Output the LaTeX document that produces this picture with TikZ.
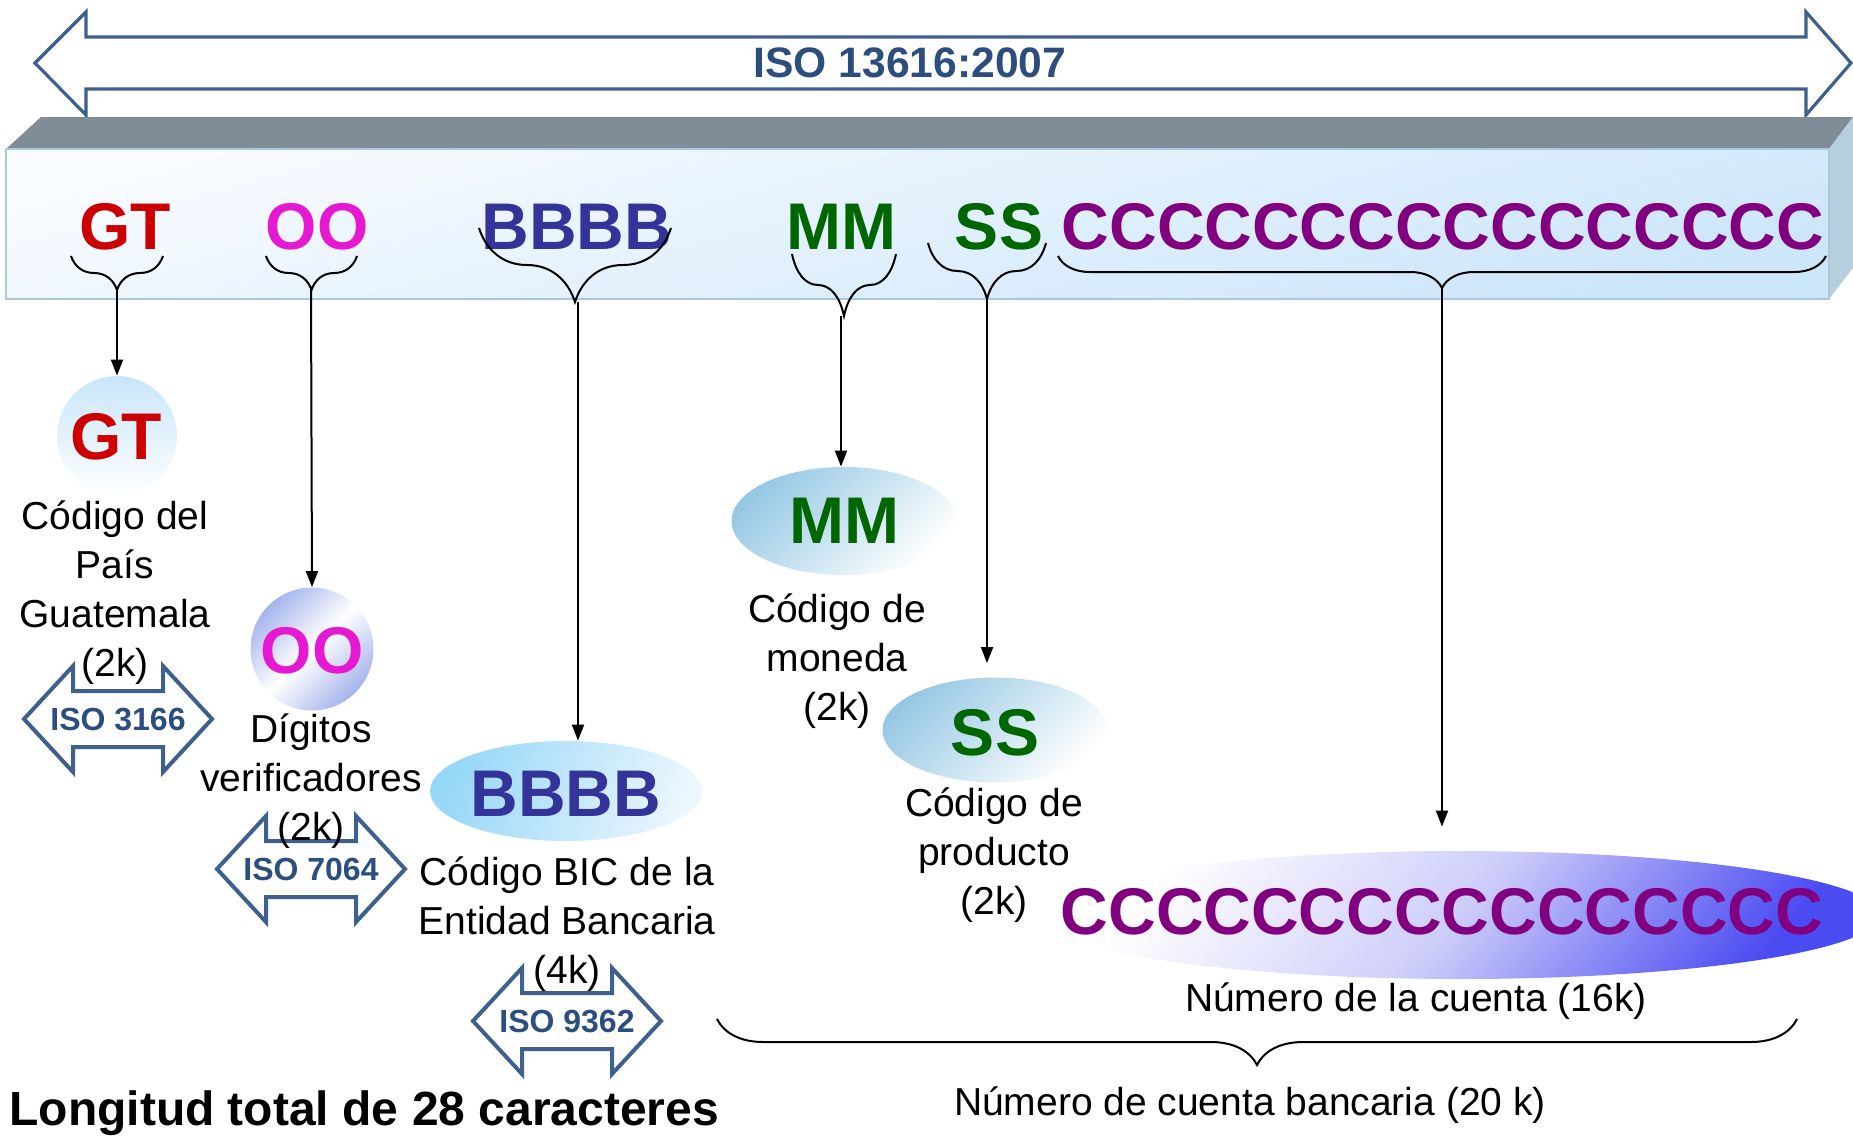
\documentclass[tikz,border=0pt]{standalone}
\usepackage{fontspec}
\setmainfont{Liberation Sans}
\usetikzlibrary{shapes.geometric,decorations.pathreplacing,arrows.meta,calc}

\definecolor{isoblue}{RGB}{44,78,126}
\definecolor{frameblue}{RGB}{62,96,140}
\definecolor{gtred}{RGB}{204,0,0}
\definecolor{oomag}{RGB}{230,25,210}
\definecolor{bblue}{RGB}{51,51,153}
\definecolor{mgreen}{RGB}{0,102,0}
\definecolor{cpurple}{RGB}{128,0,128}
\definecolor{bartop}{RGB}{128,140,151}
\definecolor{barside}{RGB}{181,207,223}
\definecolor{bartopcol}{RGB}{248,251,255}
\definecolor{barbot}{RGB}{204,230,250}
\definecolor{barline}{RGB}{170,200,222}
\definecolor{gtblue}{RGB}{200,230,250}
\definecolor{ooblue}{RGB}{165,180,236}
\definecolor{bbblue}{RGB}{150,215,248}
\definecolor{bbwhite}{RGB}{236,246,253}
\definecolor{mmblue}{RGB}{150,200,228}
\definecolor{cclav}{RGB}{205,205,250}
\definecolor{ccblue}{RGB}{75,75,242}

\newcommand\isoarrow[4]{%
  \begin{scope}[shift={(#2,#3)}]
    \draw[isoframe] (-94,0) -- (-45,-53) -- (-45,-28) -- (45,-28) -- (45,-53) -- (94,0)
      -- (45,53) -- (45,28) -- (-45,28) -- (-45,53) -- cycle;
    \node[isot] (#1) at (0,0) {#4};
  \end{scope}}

\begin{document}
\begin{tikzpicture}[x=0.5pt,y=-0.5pt,
  big/.style={font=\bfseries\fontsize{33}{33}\selectfont, inner sep=0pt},
  lbl/.style={font=\fontsize{19.5}{24.5}\selectfont, align=center, inner sep=0pt},
  isot/.style={font=\bfseries\fontsize{16}{16}\selectfont, text=isoblue, inner sep=0pt},
  isoframe/.style={draw=frameblue, line width=2pt, line join=miter, fill=white},
  brc/.style={decorate, decoration={brace, mirror, amplitude=#1}, line width=1pt},
  conn/.style={-{Triangle[length=8pt,width=6pt]}, line width=1pt},
  blob/.style={ellipse, inner sep=0pt, draw=none},
]
\useasboundingbox (0,0) rectangle (1853,1136);

% top double arrow
\draw[frameblue, line width=1.6pt, fill=white, line join=miter]
  (35,63) -- (86,12) -- (86,37) -- (1806,37) -- (1806,12) -- (1851,63)
  -- (1806,115) -- (1806,89) -- (86,89) -- (86,115) -- cycle;
\node[font=\bfseries\fontsize{21.3}{21.3}\selectfont, text=isoblue, inner sep=0pt] (iso) at (910,63) {ISO 13616:2007};

% 3D bar
\fill[bartop] (6,149) -- (41,117) -- (1853,117) -- (1829,149) -- cycle;
\fill[barside] (1829,149) -- (1853,117) -- (1853,268) -- (1829,299) -- cycle;
\shade[top color=bartopcol, bottom color=barbot, shading angle=15] (6,149) rectangle (1829,299);
\draw[barline, line width=0.6pt] (6,149) rectangle (1829,299);

% letters in bar
\node[big, text=gtred] (gt) at (125,227) {GT};
\node[big, text=oomag] (oo) at (317,227) {OO};
\node[big, text=bblue] (bb) at (577,227) {BBBB};
\node[big, text=mgreen] (mm) at (841,227) {MM};
\node[big, text=mgreen] (ss) at (999,227) {SS};
\node[big, text=cpurple] (cc) at (1443,227) {CCCCCCCCCCCCCCCC};

% braces in bar
\draw[brc=17pt] (71,256) -- (163,256);
\draw[brc=17pt] (266,256) -- (357,256);
\draw[brc=37pt] (479,228) -- (671,228);
\draw[brc=31pt] (792,254) -- (896,254);
\draw[brc=28pt] (928,243) -- (1046,243);
\draw[brc=16pt] (1058,256) -- (1826,256);
\coordinate (gtb) at (117,290);
\coordinate (oob) at (311,290);
\coordinate (bbb) at (578,302);
\coordinate (mmb) at (841,316);
\coordinate (ssb) at (987,299);
\coordinate (ccb) at (1442,288);

% blobs
\node[circle, minimum size=60pt, inner sep=0pt, top color=gtblue, bottom color=white] (gtc) at (117,436) {};
\node[circle, minimum size=61.5pt, inner sep=0pt, top color=ooblue, bottom color=ooblue, middle color=white, shading angle=45] (ooc) at (312,649) {};
\node[blob, minimum width=136pt, minimum height=50pt, left color=bbblue, right color=bbwhite, shading angle=70] (bbe) at (566,791) {};
\node[blob, minimum width=112.5pt, minimum height=54pt, top color=mmblue, bottom color=white, shading angle=45] (mme) at (844,521) {};
\node[blob, minimum width=112.5pt, minimum height=52.5pt, top color=mmblue, bottom color=white, shading angle=45] (sse) at (995,730) {};
\node[blob, minimum width=420pt, minimum height=64pt, top color=white, bottom color=ccblue, middle color=cclav, shading angle=50] (cce) at (1460,915) {};

% letters in blobs
\node[big, text=gtred] (gt2) at (116,437) {GT};
\node[big, text=oomag] (oo2) at (312,651) {OO};
\node[big, text=bblue] (bb2) at (566,794) {BBBB};
\node[big, text=mgreen] (mm2) at (844,521) {MM};
\node[big, text=mgreen] (ss2) at (995,733) {SS};
\node[big, text=cpurple] (cc2) at (1442,912) {CCCCCCCCCCCCCCCC};

% connectors
\draw[conn] (gtb) -- (gtc.north);
\draw[conn] (oob) -- (ooc.north);
\draw[conn] (bbb) -- (bbb |- bbe.north);
\draw[conn] (mmb) -- (mmb |- mme.north);
\draw[conn, shorten >=7pt] (ssb) -- (ssb |- sse.north);
\draw[conn, shorten >=12pt] (ccb) -- (ccb |- cce.north);

% ISO arrows
\isoarrow{iso1}{118}{719}{ISO 3166}
\isoarrow{iso2}{311}{869}{ISO 7064}
\isoarrow{iso3}{567}{1021}{ISO 9362}

% labels
\node[lbl] (gtl) at (115,593) {Código del\\País\\Guatemala\\(2k)};
\node[lbl] (ool) at (311,781) {Dígitos\\verificadores\\(2k)};
\node[lbl] (bbl) at (567,924) {Código BIC de la\\Entidad Bancaria\\(4k)};
\node[lbl] (mml) at (837,661) {Código de\\moneda\\(2k)};
\node[lbl] (ssl) at (994,855) {Código de\\producto\\(2k)};
\node[lbl] (ccl) at (1416,1001) {Número de la cuenta (16k)};

% bottom brace
\draw[brc=23pt] (717,1019) -- (1797,1019);
\node[lbl] (ncb) at (1250,1105) {Número de cuenta bancaria (20 k)};
\node[font=\bfseries\fontsize{24}{24}\selectfont, anchor=west, inner sep=0pt] (lt) at (9,1113) {Longitud total de 28 caracteres};
\end{tikzpicture}
\end{document}
